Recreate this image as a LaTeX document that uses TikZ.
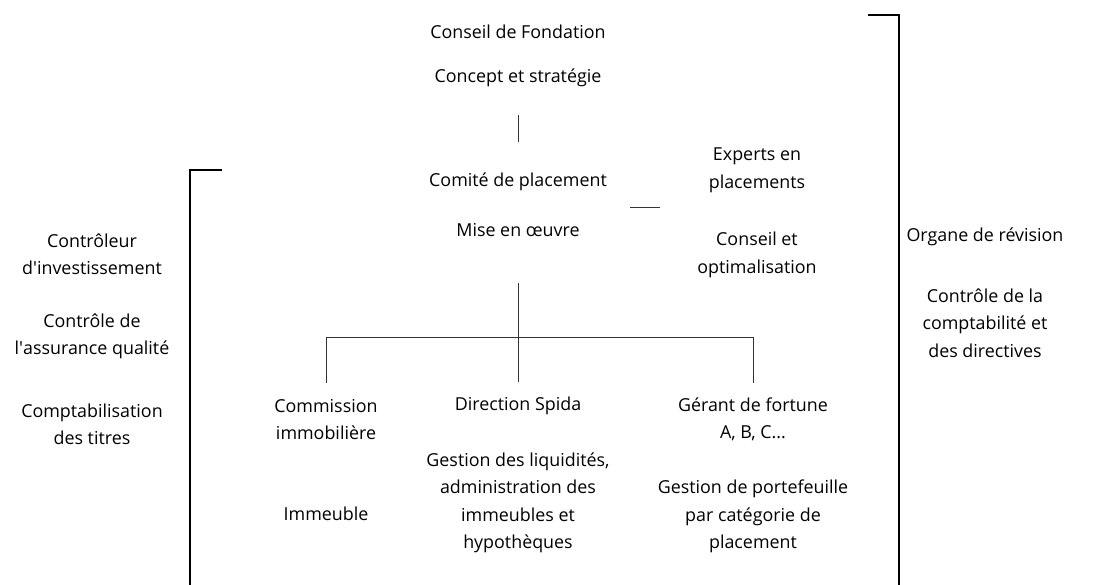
\documentclass[tikz,border=0pt]{standalone}
\usepackage{fontspec}
\setmainfont{Open Sans}

\begin{document}
\begin{tikzpicture}[x=0.75pt,y=-0.75pt,
lbl/.style={align=center,inner sep=0pt,font=\fontsize{13.4}{20.6}\selectfont},
tree/.style={line width=0.7pt,draw=black!80},
bracket/.style={line width=1.6pt}]
\useasboundingbox (0,0) rectangle (1099,585);
% top
\node[lbl] (conseil) at (518,32) {Conseil de Fondation};
\node[lbl] (concept) at (518,78) {Concept et stratégie};
\node[lbl] (comite) at (518,182) {Comité de placement};
\node[lbl] (mise) at (518,230) {Mise en œuvre};
\node[lbl] (experts) at (757,170.5) {Experts en\\placements};
\node[lbl] (conseiltxt) at (757,255) {Conseil et\\optimalisation};
% side
\node[lbl] (organe) at (985,237) {Organe de révision};
\node[lbl] (controle) at (985,323) {Contrôle de la\\comptabilité et\\des directives};
\node[lbl] (ctrl) at (92,254) {Contrôleur\\d\textquotesingle investissement};
\node[lbl] (qualite) at (92,336.5) {Contrôle de\\l\textquotesingle assurance qualité};
\node[lbl] (titres) at (92,424.5) {Comptabilisation\\des titres};
% bottom
\node[lbl] (commission) at (326,419.5) {Commission\\immobilière};
\node[lbl] (immeuble) at (326,514) {Immeuble};
\node[lbl] (direction) at (518,406) {Direction Spida};
\node[lbl] (liquid) at (518,503) {Gestion des liquidités,\\administration des\\immeubles et\\hypothèques};
\node[lbl] (gerant) at (753,419.5) {Gérant de fortune\\A, B, C...};
\node[lbl] (portef) at (753,516.5) {Gestion de portefeuille\\par catégorie de\\placement};
% connectors
\coordinate (c1) at (518,115);
\coordinate (c2) at (518,142);
\coordinate (e1) at (630,207);
\coordinate (e2) at (660,207);
\coordinate (t0) at (518,283);
\coordinate (t1) at (518,382);
\coordinate (tl) at (326,337);
\coordinate (tr) at (753,337);
\coordinate (bl) at (326,383);
\coordinate (br) at (753,383);
\draw[tree] (c1) -- (c2);
\draw[tree] (e1) -- (e2);
\draw[tree] (t0) -- (t1);
\draw[tree] (bl) -- (tl) -- (tr) -- (br);
% brackets
\coordinate (lb0) at (222,170);
\coordinate (lb1) at (190,170);
\coordinate (lb2) at (190,585);
\coordinate (rb0) at (868,15);
\coordinate (rb1) at (899,15);
\coordinate (rb2) at (899,585);
\draw[bracket] (lb0) -- (lb1) -- (lb2);
\draw[bracket] (rb0) -- (rb1) -- (rb2);
\end{tikzpicture}
\end{document}
